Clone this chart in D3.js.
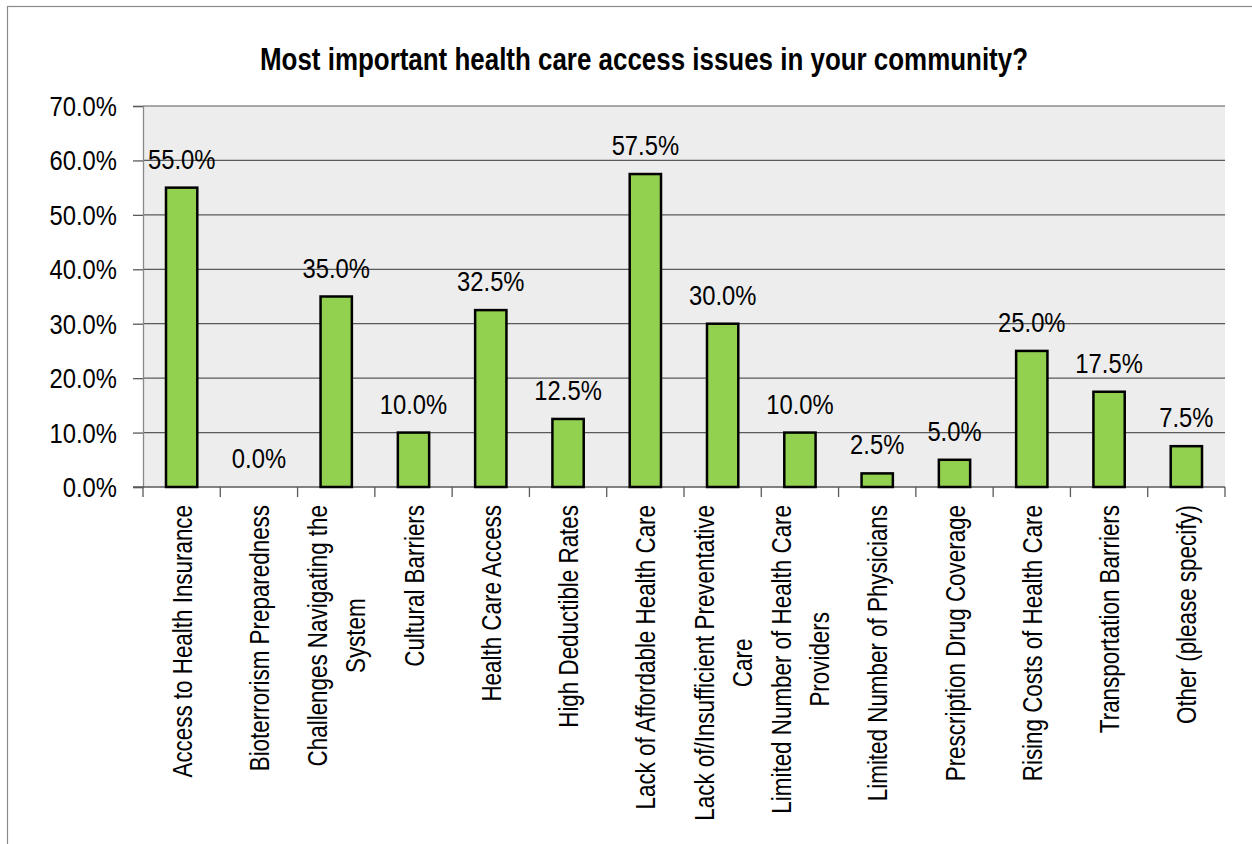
<!DOCTYPE html>
<html>
<head>
<meta charset="utf-8">
<script src="https://cdn.jsdelivr.net/npm/d3@7"></script>
<style>
	body { margin: 0; background: #fff; }
	text { font-family: "Liberation Sans", Arial, sans-serif; fill: #000; }
</style>
</head>
<body>
<div id="chart01"></div>
<script>
// chart data
var categories = [
	"Access to Health Insurance",
	"Bioterrorism Preparedness",
	"Challenges Navigating the\nSystem",
	"Cultural Barriers",
	"Health Care Access",
	"High Deductible Rates",
	"Lack of Affordable Health Care",
	"Lack of/Insufficient Preventative\nCare",
	"Limited Number of Health Care\nProviders",
	"Limited Number of Physicians",
	"Prescription Drug Coverage",
	"Rising Costs of Health Care",
	"Transportation Barriers",
	"Other (please specify)"
];
var values = [55.0, 0.0, 35.0, 10.0, 32.5, 12.5, 57.5, 30.0, 10.0, 2.5, 5.0, 25.0, 17.5, 7.5];
var yTicks = [0, 10, 20, 30, 40, 50, 60, 70];
var title = "Most important health care access issues in your community?";

var width = 1252;
var height = 844;
var margin = { top: 106, right: 27, bottom: 357, left: 143 };

var svg = d3.select("#chart01").append("svg")
	.attr("width", width)
	.attr("height", height);

// outer frame
svg.append("rect")
	.attr("x", 7.5).attr("y", 6.5)
	.attr("width", 1300).attr("height", 900)
	.attr("fill", "none")
	.attr("stroke", "#8a8a8a")
	.attr("stroke-width", 1.2);

var x = d3.scaleBand()
	.domain(d3.range(categories.length))
	.range([margin.left, width - margin.right]);
var y = d3.scaleLinear()
	.domain([0, 70])
	.range([height - margin.bottom, margin.top]);

var fmt = (d) => d3.format(".1f")(d) + "%";

// plot background
svg.append("rect")
	.attr("x", margin.left)
	.attr("y", y(70))
	.attr("width", x.range()[1] - margin.left)
	.attr("height", y(0) - y(70))
	.attr("fill", "#ededed");

// gridlines
svg.append("g")
	.selectAll("line")
	.data(yTicks.filter((d) => d > 0))
	.join("line")
	.attr("x1", margin.left)
	.attr("x2", x.range()[1])
	.attr("y1", (d) => y(d))
	.attr("y2", (d) => y(d))
	.attr("stroke", (d) => (d === 70 ? "#8c8c8c" : "#5a5a5a"))
	.attr("stroke-width", 1.3);

// Y-axis
var yAxis = svg.append("g")
	.attr("transform", `translate(${margin.left}, 0)`)
	.call(d3.axisLeft(y).tickValues(yTicks).tickSize(10).tickFormat(""));
yAxis.select(".domain").attr("stroke", "#8a8a8a").attr("stroke-width", 1.3);
yAxis.selectAll(".tick line").attr("stroke", "#5a5a5a").attr("stroke-width", 1.3);

svg.append("g")
	.selectAll("text")
	.data(yTicks)
	.join("text")
	.attr("transform", (d) => `translate(117, ${y(d) + 10}) scale(0.85, 1)`)
	.attr("text-anchor", "end")
	.attr("font-size", "28px")
	.text(fmt);

// X-axis
var xAxis = svg.append("g")
	.attr("transform", `translate(0, ${y(0)})`);
xAxis.append("line")
	.attr("x1", margin.left - 10)
	.attr("x2", x.range()[1])
	.attr("stroke", "#5a5a5a")
	.attr("stroke-width", 1.3);
xAxis.selectAll(".xtick")
	.data(d3.range(categories.length + 1))
	.join("line")
	.attr("class", "xtick")
	.attr("x1", (d) => margin.left + d * x.step())
	.attr("x2", (d) => margin.left + d * x.step())
	.attr("y1", 0)
	.attr("y2", 10)
	.attr("stroke", "#5a5a5a")
	.attr("stroke-width", 1.3);

// bars
var barWidth = x.bandwidth() * 0.405;
svg.append("g")
	.selectAll("rect")
	.data(values)
	.join("rect")
	.attr("x", (d, i) => x(i) + (x.bandwidth() - barWidth) / 2)
	.attr("y", (d) => y(d))
	.attr("width", barWidth)
	.attr("height", (d) => y(0) - y(d))
	.attr("fill", "#92d050")
	.attr("stroke", "#000")
	.attr("stroke-width", (d) => (d > 0 ? 2.5 : 0));

// bar labels
svg.append("g")
	.selectAll("text")
	.data(values)
	.join("text")
	.attr("transform", (d, i) => `translate(${x(i) + x.bandwidth() / 2}, ${y(d) - 19}) scale(0.85, 1)`)
	.attr("text-anchor", "middle")
	.attr("font-size", "28px")
	.text(fmt);

// category labels, rotated
var fs = 28;
var lh = 38;
var labelGroups = svg.append("g")
	.selectAll("g")
	.data(categories)
	.join("g")
	.attr("transform", (d, i) => `translate(${x(i) + x.bandwidth() / 2}, 505) rotate(-90) scale(0.8, 1)`);

labelGroups.each(function (d) {
	var g = d3.select(this);
	var lines = d.split("\n");
	var y0 = (0.716 * fs - (lines.length - 1) * lh) / 2;
	var texts = g.selectAll("text")
		.data(lines)
		.join("text")
		.attr("font-size", fs + "px")
		.attr("text-anchor", "middle")
		.attr("y", (l, j) => y0 + j * lh)
		.text((l) => l);
	var maxLen = d3.max(texts.nodes(), (n) => n.getComputedTextLength());
	texts.attr("x", -maxLen / 2);
});

// title
svg.append("text")
	.attr("x", 644)
	.attr("y", 70)
	.attr("text-anchor", "middle")
	.attr("font-size", "31px")
	.attr("font-weight", "bold")
	.attr("textLength", 768)
	.attr("lengthAdjust", "spacingAndGlyphs")
	.text(title);
</script>
</body>
</html>
